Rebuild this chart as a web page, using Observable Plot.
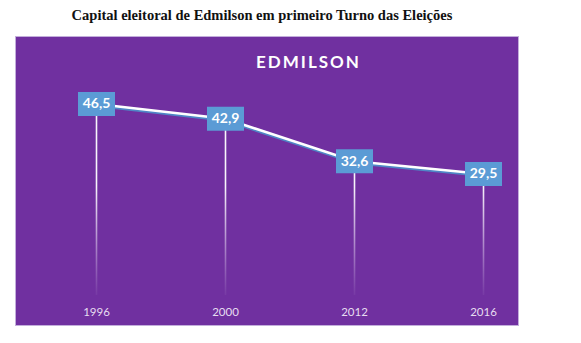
<!DOCTYPE html>
<html><head><meta charset="utf-8">
<script src="https://cdn.jsdelivr.net/npm/d3@7"></script>
<script src="https://cdn.jsdelivr.net/npm/@observablehq/plot@0.6"></script>
<style>
body{margin:0;background:#fff;width:581px;height:343px;position:relative;overflow:hidden}
#title{position:absolute;top:7px;left:0;width:524px;text-align:center;font:bold 14.5px "Liberation Serif",serif;color:#111}
#panel{position:absolute;left:15px;top:36px;width:502px;height:288px;background:#7030A0;border:1px solid #c3aedb}
#sub{position:absolute;left:0;top:14px;width:501px;text-align:center;padding-left:84px;box-sizing:border-box;font:bold 17px Lato,sans-serif;letter-spacing:2px;color:#fff}
#chart{position:absolute;left:-1px;top:-1px}
</style></head><body>
<div id="title">Capital eleitoral de Edmilson em primeiro Turno das Eleições</div>
<div id="panel"><div id="sub">EDMILSON</div><div id="chart"></div></div>
<script>
const years = ["1996", "2000", "2012", "2016"];
const values = [46.5, 42.9, 32.6, 29.5];
const data = years.map((y, i) => ({year: y, value: values[i]}));
const fmt = v => d3.format(".1f")(v).replace(".", ",");
const rectSymbol = {draw(ctx) { ctx.rect(-18.5, -12, 37, 24); }};

const chart = Plot.plot({
  width: 503, height: 290,
  marginLeft: 80, marginRight: 34, marginTop: 53, marginBottom: 31,
  style: {background: "transparent", overflow: "visible"},
  x: {type: "point", domain: years, padding: 0, label: null, tickSize: 0, tickPadding: 12},
  y: {domain: [0, 50], axis: null},
  marks: [
    Plot.ruleX(data, {x: "year", y1: 0, y2: "value", stroke: "url(#fade)", strokeWidth: 1.6}),
    Plot.line(data, {x: "year", y: "value", stroke: "#4f86c6", strokeWidth: 3, dy: 1.5}),
    Plot.line(data, {x: "year", y: "value", stroke: "#ffffff", strokeWidth: 2.6}),
    Plot.dot(data, {x: "year", y: "value", symbol: rectSymbol, fill: "#5B9BD5", stroke: null}),
    Plot.text(data, {x: "year", y: "value", text: d => fmt(d.value), fill: "#fff", fontSize: 14, fontWeight: "bold", fontFamily: "Lato, sans-serif"}),
    Plot.axisX({tickSize: 0, tickPadding: 12, fontSize: 11.5, fontFamily: "Lato, sans-serif", color: "#e6dcf0", label: null})
  ]
});
const svg = d3.select(chart);
const defs = svg.insert("defs", ":first-child");
const g = defs.append("linearGradient").attr("id", "fade").attr("gradientUnits", "userSpaceOnUse")
  .attr("x1", 0).attr("x2", 0).attr("y1", 150).attr("y2", 260);
g.append("stop").attr("offset", 0).attr("stop-color", "#ffffff").attr("stop-opacity", 0.95);
g.append("stop").attr("offset", 1).attr("stop-color", "#e8dcf4").attr("stop-opacity", 0.05);
document.getElementById("chart").appendChild(chart);
</script>
</body></html>
